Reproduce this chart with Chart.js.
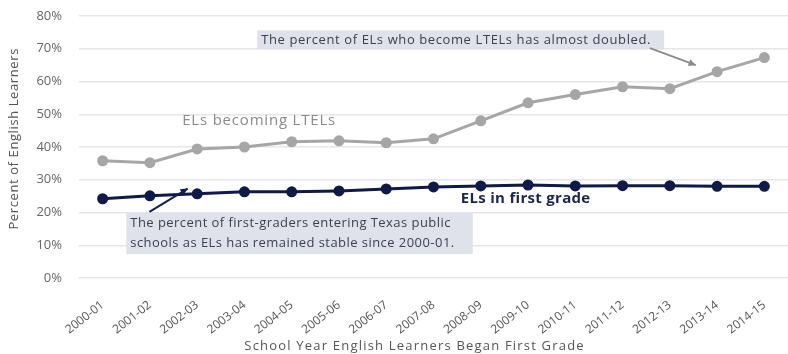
<!DOCTYPE html>
<html>
<head>
<meta charset="utf-8">
<script src="https://cdn.jsdelivr.net/npm/chart.js@4"></script>
<style>
  html, body { margin:0; padding:0; background:#fff; }
  #wrap { width:788px; height:354px; }
</style>
</head>
<body>
<div id="wrap"><canvas id="chart" width="788" height="354"></canvas></div>
<script>
// chart data
const years = ['2000-01','2001-02','2002-03','2003-04','2004-05','2005-06','2006-07','2007-08',
               '2008-09','2009-10','2010-11','2011-12','2012-13','2013-14','2014-15'];
const ltelPct = [35.8, 35.2, 39.4, 40.0, 41.6, 41.9, 41.3, 42.5, 48.0, 53.5, 56.0, 58.4, 57.8, 63.0, 67.3];
const firstGradePct = [24.2, 25.1, 25.7, 26.3, 26.3, 26.6, 27.2, 27.8, 28.1, 28.4, 28.1, 28.2, 28.2, 28.0, 28.0];
const yTicks = [0, 10, 20, 30, 40, 50, 60, 70, 80];

const FONT = '"Open Sans", "Liberation Sans", sans-serif';
const xTitle = 'School Year English Learners Began First Grade';
const yTitle = 'Percent of English Learners';

// notes drawn on top, placed in data units (category index, percent)
const notes = {
    ltelBox: {x0:3.27, x1:11.88, y0:75.6, y1:69.8,
              lines:['The percent of ELs who become LTELs has almost doubled.']},
    ltelArrow: {x0:11.58, y0:70.2, x1:12.55, y1:65.0, color:'#8c8c8c'},
    firstBox: {x0:0.5, x1:7.83, y0:19.9, y1:7.3,
               lines:['The percent of first-graders entering Texas public',
                      'schools as ELs has remained stable since 2000-01.']},
    firstArrow: {x0:0.99, y0:20.2, x1:1.8, y1:27.3, color:'#13204f'}
};

function drawBox(ctx, xs, ys, n, spacing){
    const l = xs.getPixelForValue(n.x0), r = xs.getPixelForValue(n.x1);
    const t = ys.getPixelForValue(n.y0), b = ys.getPixelForValue(n.y1);
    ctx.fillStyle = '#dfe2ea';
    ctx.fillRect(l, t, r-l, b-t);
    ctx.fillStyle = '#3c4150';
    ctx.font = '13px ' + FONT;
    ctx.letterSpacing = spacing;
    ctx.textBaseline = 'middle';
    ctx.textAlign = 'left';
    const lh = (b-t)/n.lines.length;
    n.lines.forEach((s,i)=> ctx.fillText(s, l+4, t + lh*(i+0.5)));
}

function drawArrow(ctx, xs, ys, a){
    const x0 = xs.getPixelForValue(a.x0), y0 = ys.getPixelForValue(a.y0);
    const x1 = xs.getPixelForValue(a.x1), y1 = ys.getPixelForValue(a.y1);
    ctx.strokeStyle = a.color;
    ctx.fillStyle = a.color;
    ctx.lineWidth = 2;
    ctx.beginPath(); ctx.moveTo(x0,y0); ctx.lineTo(x1,y1); ctx.stroke();
    const ang = Math.atan2(y1-y0, x1-x0);
    ctx.beginPath();
    ctx.moveTo(x1, y1);
    ctx.lineTo(x1 - 8*Math.cos(ang-0.45), y1 - 8*Math.sin(ang-0.45));
    ctx.lineTo(x1 - 8*Math.cos(ang+0.45), y1 - 8*Math.sin(ang+0.45));
    ctx.closePath(); ctx.fill();
}

const notesPlugin = {
    id:'notes',
    beforeInit(chart){
        // the reference text is set wide, so space the letters a little
        chart.ctx.letterSpacing = '1px';
    },
    afterDatasetsDraw(chart){
        const ctx = chart.ctx, xs = chart.scales.x, ys = chart.scales.y;
        ctx.save();
        drawBox(ctx, xs, ys, notes.ltelBox, '0.6px');
        drawArrow(ctx, xs, ys, notes.ltelArrow);
        drawBox(ctx, xs, ys, notes.firstBox, '0.45px');
        drawArrow(ctx, xs, ys, notes.firstArrow);

        ctx.textAlign = 'center';
        ctx.textBaseline = 'middle';
        ctx.font = '15px ' + FONT;
        ctx.letterSpacing = '0.8px';
        ctx.fillStyle = '#8a8a8a';
        ctx.fillText('ELs becoming LTELs', xs.getPixelForValue(3.31), ys.getPixelForValue(48.0));
        ctx.font = 'bold 15px ' + FONT;
        ctx.letterSpacing = '0.3px';
        ctx.fillStyle = '#1b2552';
        ctx.fillText('ELs in first grade', xs.getPixelForValue(8.95), ys.getPixelForValue(24.2));

        // axis titles (the reference has them a bit off centre)
        ctx.fillStyle = '#555';
        ctx.font = '13px ' + FONT;
        ctx.letterSpacing = '1.2px';
        ctx.fillText(xTitle, xs.getPixelForValue(6.6), 346);
        ctx.translate(14, ys.getPixelForValue(42.5));
        ctx.rotate(-Math.PI/2);
        ctx.letterSpacing = '0.6px';
        ctx.fillText(yTitle, 0, 0);
        ctx.restore();
    }
};

new Chart(document.getElementById('chart').getContext('2d'), {
    type:'line',
    data:{
        labels: years,
        datasets:[
            {
                label:'ELs becoming LTELs',
                data: ltelPct,
                borderColor:'#a6a6a6',
                backgroundColor:'#a6a6a6',
                borderWidth:3,
                pointRadius:4,
                pointHoverRadius:4
            },
            {
                label:'ELs in first grade',
                data: firstGradePct,
                borderColor:'#101a48',
                backgroundColor:'#101a48',
                borderWidth:3,
                pointRadius:4,
                pointHoverRadius:4
            }
        ]
    },
    options:{
        responsive:false,
        animation:false,
        layout:{autoPadding:false, padding:{top:16, right:-2, left:0, bottom:0}},
        plugins:{legend:{display:false}, tooltip:{enabled:false}},
        scales:{
            x:{
                offset:true,
                grid:{display:false},
                border:{display:false},
                ticks:{color:'#555', font:{family:FONT, size:12}, minRotation:38, maxRotation:38, padding:12},
                afterFit(s){ s.height = 76; s.paddingLeft = 0; s.paddingRight = 0; }
            },
            y:{
                min:0, max:80,
                afterBuildTicks(s){ s.ticks = yTicks.map(v=>({value:v})); },
                grid:{color:'#e6e6e6', lineWidth:1.5, drawTicks:false},
                border:{display:false},
                ticks:{color:'#666', font:{family:FONT, size:13}, padding:17, callback:v=>v+'%'},
                afterFit(s){ s.width = 79; s.paddingTop = 0; s.paddingBottom = 0; }
            }
        }
    },
    plugins:[notesPlugin]
});
</script>
</body>
</html>
